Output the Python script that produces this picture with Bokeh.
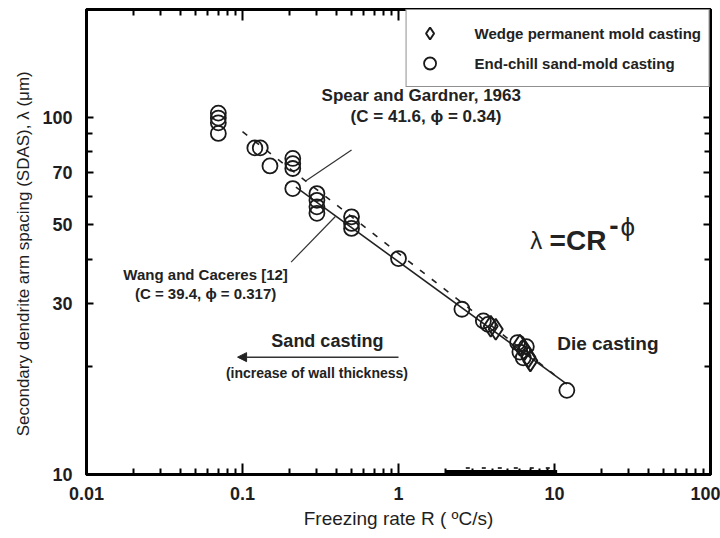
from bokeh.plotting import figure
from bokeh.models import (FixedTicker, LogAxis, Legend, LegendItem, Arrow,
                          NormalHead, Range1d, Label, CustomJSTickFormatter)
from bokeh.embed import file_html
from bokeh.resources import INLINE

FONT = "Liberation Sans"

# ---------------- data ----------------
endchill_R = [0.07, 0.07, 0.07, 0.07, 0.12, 0.13, 0.15,
              0.21, 0.21, 0.21, 0.21, 0.30, 0.30, 0.30, 0.30,
              0.50, 0.50, 0.50, 1.0, 2.55, 3.5, 3.75,
              5.8, 6.0, 6.3, 6.6, 12.0]
endchill_lam = [102.6, 99.4, 96.4, 90.0, 82.0, 82.0, 73.0,
                76.6, 74.1, 71.8, 63.1, 61.1, 58.5, 56.1, 53.8,
                52.6, 50.4, 48.8, 40.2, 29.0, 26.9, 26.3,
                23.4, 22.0, 21.2, 22.8, 17.2]

wedge_R = [3.9, 4.2, 6.0, 6.4, 6.8, 7.0]
wedge_lam = [26.0, 25.5, 23.0, 22.3, 21.3, 20.8]

# fitted lines (end points of each fitted segment)
wang_R = [0.22, 12.0]
wang_lam = [63.7, 17.9]
spear_R = [0.1, 10.0]
spear_lam = [91.0, 19.0]

# ticks
x_major = [0.01, 0.1, 1, 10, 100]
x_minor = [k * 10.0 ** e for e in range(-2, 2) for k in range(2, 10)]
y_major = [10, 30, 50, 70, 100]
y_minor = [20, 40, 60, 80, 90, 200]

# annotation leader lines
spear_lead_R = [0.50, 0.254]
spear_lead_lam = [80.9, 66.3]
wang_lead_R = [0.205, 0.394]
wang_lead_lam = [39.3, 52.7]

# scan artefact on the bottom axis
bar_R = [2.0, 10.4]
bar_lam = [10.17, 10.17]
bar_dash_R = [2.7, 9.6]
bar_dash_lam = [10.42, 10.42]

# ---------------- figure ----------------
p = figure(x_axis_type="log", y_axis_type="log",
           x_range=Range1d(0.01, 100), y_range=Range1d(10, 200),
           frame_width=624, frame_height=465,
           min_border_left=86, min_border_right=10,
           min_border_top=9, min_border_bottom=56,
           output_backend="svg", toolbar_location=None,
           background_fill_color="white", border_fill_color="white")
p.grid.visible = False
p.outline_line_color = "black"
p.outline_line_width = 3

xt = FixedTicker(ticks=x_major, minor_ticks=x_minor)
yt = FixedTicker(ticks=y_major, minor_ticks=y_minor)


def style_axis(ax, labels=True):
    ax.axis_line_width = 3
    ax.axis_line_color = "black"
    ax.major_tick_in = 11
    ax.major_tick_out = 0
    ax.minor_tick_in = 6
    ax.minor_tick_out = 0
    ax.major_tick_line_width = 2
    ax.minor_tick_line_width = 2
    if labels:
        ax.major_label_text_font = FONT
        ax.major_label_text_font_style = "bold"
        ax.major_label_text_font_size = "18px"
        ax.major_label_text_color = "#1e1e1e"
    else:
        ax.major_label_text_font_size = "2px"
        ax.major_label_text_alpha = 0
        ax.major_label_standoff = 0


xa = p.xaxis[0]
xa.ticker = xt
style_axis(xa)
xa.formatter = CustomJSTickFormatter(code="return tick.toString();")
xa.major_label_standoff = 12
xa.axis_label = "Freezing rate R ( \u00baC/s)"
xa.axis_label_text_font = FONT
xa.axis_label_text_font_style = "normal"
xa.axis_label_text_font_size = "19px"
xa.axis_label_text_color = "#1e1e1e"
xa.axis_label_standoff = 5

ya = p.yaxis[0]
ya.ticker = yt
style_axis(ya)
ya.formatter = CustomJSTickFormatter(code="return tick.toFixed(0);")
ya.major_tick_in = 7
ya.major_label_standoff = 14
ya.axis_label = ("Secondary dendrite arm spacing (SDAS), \u03bb (\u03bcm)"
                 + "\u00a0" * 5)
ya.axis_label_text_font = FONT
ya.axis_label_text_font_style = "normal"
ya.axis_label_text_font_size = "17px"
ya.axis_label_text_color = "#1e1e1e"
ya.axis_label_standoff = 6

top = LogAxis(ticker=xt)
style_axis(top, labels=False)
p.add_layout(top, "above")
right = LogAxis(ticker=yt)
style_axis(right, labels=False)
right.major_tick_in = 7
p.add_layout(right, "right")

# ---------------- fitted lines ----------------
p.line(spear_R, spear_lam, line_color="#222222", line_width=1.6, line_dash="6 9")
p.line(wang_R, wang_lam, line_color="#222222", line_width=1.6)

# leader lines
p.line(spear_lead_R, spear_lead_lam, line_color="#333333", line_width=1.2)
p.line(wang_lead_R, wang_lead_lam, line_color="#333333", line_width=1.2)

# bottom artefact
p.line(bar_R, bar_lam, line_color="black", line_width=4)
p.line(bar_dash_R, bar_dash_lam, line_color="black", line_width=1.5, line_dash="4 12")

# ---------------- data points ----------------
r_c = p.scatter(endchill_R, endchill_lam, marker="circle", size=15,
                fill_color=None, line_color="#1a1a1a", line_width=1.8)
r_w = p.scatter(wedge_R, wedge_lam, marker="diamond", size=21,
                fill_color=None, line_color="#1a1a1a", line_width=2.0)

legend = Legend(items=[LegendItem(label="Wedge permanent mold casting", renderers=[r_w]),
                       LegendItem(label="End-chill sand-mold casting", renderers=[r_c])],
                location="top_right", margin=0, padding=8, spacing=0,
                glyph_width=30, glyph_height=30, label_height=30,
                label_standoff=30,
                label_text_font=FONT, label_text_font_style="bold",
                label_text_font_size="15px", label_text_color="#222222",
                border_line_color="#222222", border_line_width=1.5,
                background_fill_color="white", background_fill_alpha=1)
p.add_layout(legend)

# ---------------- text annotations ----------------


def lab(x, y, t, size="15px", align="center", style="bold", baseline="middle"):
    p.add_layout(Label(x=x, y=y, text=t, text_font=FONT, text_font_style=style,
                       text_font_size=size, text_align=align, text_baseline=baseline,
                       text_color="#222222"))


lab(1.40, 114.6, "Spear and Gardner, 1963", size="17px")
lab(1.50, 100.7, "(C = 41.6, \u03d5 = 0.34)", size="17px")
lab(0.058, 36.3, "Wang and Caceres [12]")
lab(0.058, 32.1, "(C = 39.4, \u03d5 = 0.317)")
lab(0.35, 23.6, "Sand casting", size="18px")
lab(0.30, 19.2, "(increase of wall thickness)", size="14px")
lab(10.4, 23.3, "Die casting", size="19px", align="left")
lab(7.0, 45.2, "\u03bb", size="24px", align="left", style="normal")
lab(9.3, 45.2, "=CR", size="28px", align="left")
lab(22.4, 49.6, "-", size="28px", align="left")
lab(26.5, 49.2, "\u03d5", size="26px", align="left", style="normal")

p.add_layout(Arrow(end=NormalHead(size=9, line_color="#222222", fill_color="#222222"),
                   x_start=1.0, y_start=21.3, x_end=0.093, y_end=21.3,
                   line_color="#333333", line_width=1.5))

open("out.html", "w").write(file_html(p, INLINE))
